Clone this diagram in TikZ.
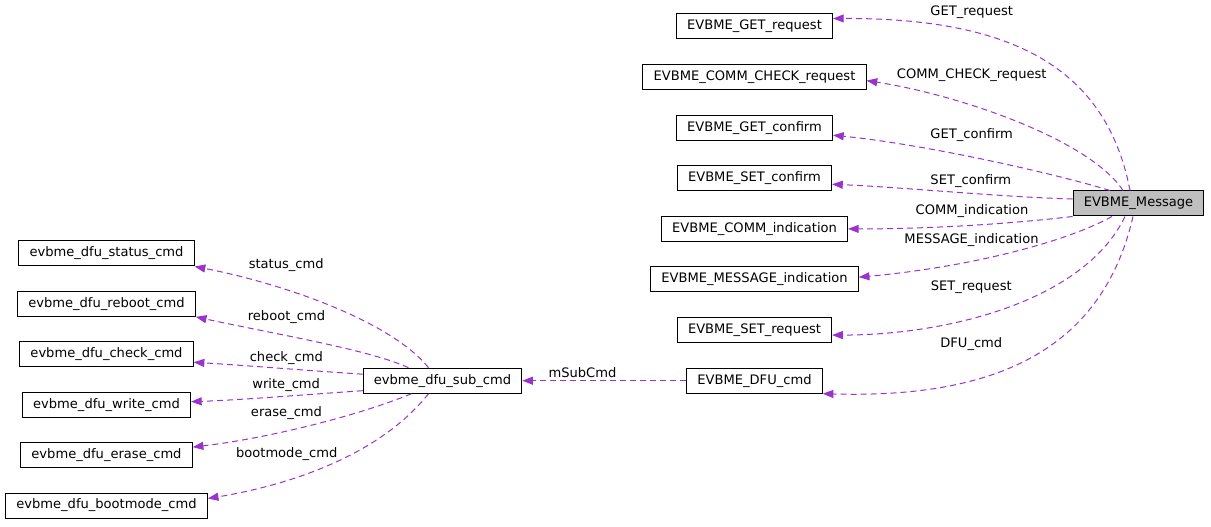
\documentclass[tikz,border=0pt]{standalone}
\usepackage{fontspec}
\setmainfont{DejaVu Sans}
\usepackage{xcolor}
\usetikzlibrary{arrows.meta,
positioning,
calc}

\definecolor{edgecol}{HTML}{9A32CD}
\definecolor{rootfill}{HTML}{BFBFBF}

\begin{document}
\begin{tikzpicture}[
    x=0.75pt, y=-0.75pt,
    node distance=18.45pt,
    >={Triangle[length=8pt,width=6pt]},
    cls/.style={
        draw,
        line width=0.75pt,
        inner xsep=8pt,
        inner ysep=0pt,
        minimum height=18.75pt,
        font=\fontsize{9.8}{11}\selectfont
    },
    rel/.style={
        ->,
        color=edgecol,
        line width=0.75pt,
        dash pattern=on 4.5pt off 3pt
    },
    lbl/.style={
        inner sep=0pt,
        font=\fontsize{9.8}{11}\selectfont
    }
]
\useasboundingbox (0,0) rectangle (1211,527);

\node[cls, fill=rootfill] (msg) at (1138.5,203.5) {EVBME\_Message};

\node[cls] (getreq) at (754.5,26.5) {EVBME\_GET\_request};
\node[cls, below=of getreq] (commchk) {EVBME\_COMM\_CHECK\_request};
\node[cls, below=of commchk] (getconf) {EVBME\_GET\_confirm};
\node[cls, below=of getconf] (setconf) {EVBME\_SET\_confirm};
\node[cls, below=of setconf] (commind) {EVBME\_COMM\_indication};
\node[cls, below=of commind] (msgind) {EVBME\_MESSAGE\_indication};
\node[cls, below=of msgind] (setreq) {EVBME\_SET\_request};
\node[cls, below=of setreq] (dfucmd) {EVBME\_DFU\_cmd};

\node[cls, left=123pt of dfucmd] (subcmd) {evbme\_dfu\_sub\_cmd};

\node[cls] (status) at (106.5,253.5) {evbme\_dfu\_status\_cmd};
\node[cls, below=18.3pt of status] (reboot) {evbme\_dfu\_reboot\_cmd};
\node[cls, below=18.3pt of reboot] (check) {evbme\_dfu\_check\_cmd};
\node[cls, below=18.3pt of check] (write) {evbme\_dfu\_write\_cmd};
\node[cls, below=18.3pt of write] (erase) {evbme\_dfu\_erase\_cmd};
\node[cls, below=18.3pt of erase] (bootmode) {evbme\_dfu\_bootmode\_cmd};

% members of EVBME_Message
\draw[rel] ($(msg.north)+(-8.5,0)$) .. controls (1105,60) and (1000,18) .. ($(getreq.east)+(0,-8)$);
\draw[rel] ($(msg.north)+(-15.5,0)$) .. controls (1090,140) and (960,95) .. ($(commchk.east)+(0,3.5)$);
\draw[rel] ($(msg.north)+(-28.5,0)$) .. controls (1060,175) and (930,145) .. ($(getconf.east)+(0,7.5)$);
\draw[rel] ($(msg.west)+(0,-4.5)$) .. controls (1000,197) and (900,187) .. ($(setconf.east)+(0,6)$);
\draw[rel] (msg.south west) .. controls (1000,225) and (920,229) .. (commind.east);
\draw[rel] ($(msg.south)+(-26.5,0)$) .. controls (1060,245) and (960,268) .. ($(msgind.east)+(0,-2.3)$);
\draw[rel] ($(msg.south)+(-13.5,0)$) .. controls (1085,300) and (950,335) .. ($(setreq.east)+(0,5)$);
\draw[rel] ($(msg.south)+(-5.5,0)$) .. controls (1100,360) and (980,398) .. (dfucmd.south east);

\node[lbl] (lgetreq) at (971.7,11.7) {GET\_request};
\node[lbl] (lcommchk) at (971.7,75) {COMM\_CHECK\_request};
\node[lbl] (lgetconf) at (971.7,135) {GET\_confirm};
\node[lbl] (lsetconf) at (970.8,180.7) {SET\_confirm};
\node[lbl] (lcommind) at (972,211) {COMM\_indication};
\node[lbl] (lmsgind) at (971.5,240) {MESSAGE\_indication};
\node[lbl] (lsetreq) at (971.3,287) {SET\_request};
\node[lbl] (ldfucmd) at (971.3,344) {DFU\_cmd};

% sub command
\draw[rel] (dfucmd.west) -- (subcmd.east);
\node[lbl] (lsubcmd) at (582.5,372.5) {mSubCmd};

% members of evbme_dfu_sub_cmd
\draw[rel] ($(subcmd.north)+(-14,0)$) .. controls (390,320) and (280,283) .. (status.south east);
\draw[rel] ($(subcmd.north)+(-34,0)$) .. controls (370,350) and (280,335) .. (reboot.south east);
\draw[rel] ($(subcmd.west)+(0,-6.5)$) .. controls (300,370) and (240,365) .. ($(check.east)+(0,8)$);
\draw[rel] ($(subcmd.west)+(0,10)$) .. controls (300,395) and (240,400) .. ($(write.east)+(0,-3)$);
\draw[rel] ($(subcmd.south)+(-31,0)$) .. controls (360,415) and (270,438) .. ($(erase.east)+(0,-8)$);
\draw[rel] ($(subcmd.south)+(-14,0)$) .. controls (380,455) and (290,485) .. ($(bootmode.east)+(0,-7)$);

\node[lbl] (lstatus) at (286.2,264.8) {status\_cmd};
\node[lbl] (lreboot) at (286.5,316.7) {reboot\_cmd};
\node[lbl] (lcheck) at (286.3,358.3) {check\_cmd};
\node[lbl] (lwrite) at (286.2,384.8) {write\_cmd};
\node[lbl] (lerase) at (286.5,413.3) {erase\_cmd};
\node[lbl] (lbootmode) at (286.7,454.5) {bootmode\_cmd};

\end{tikzpicture}
\end{document}
